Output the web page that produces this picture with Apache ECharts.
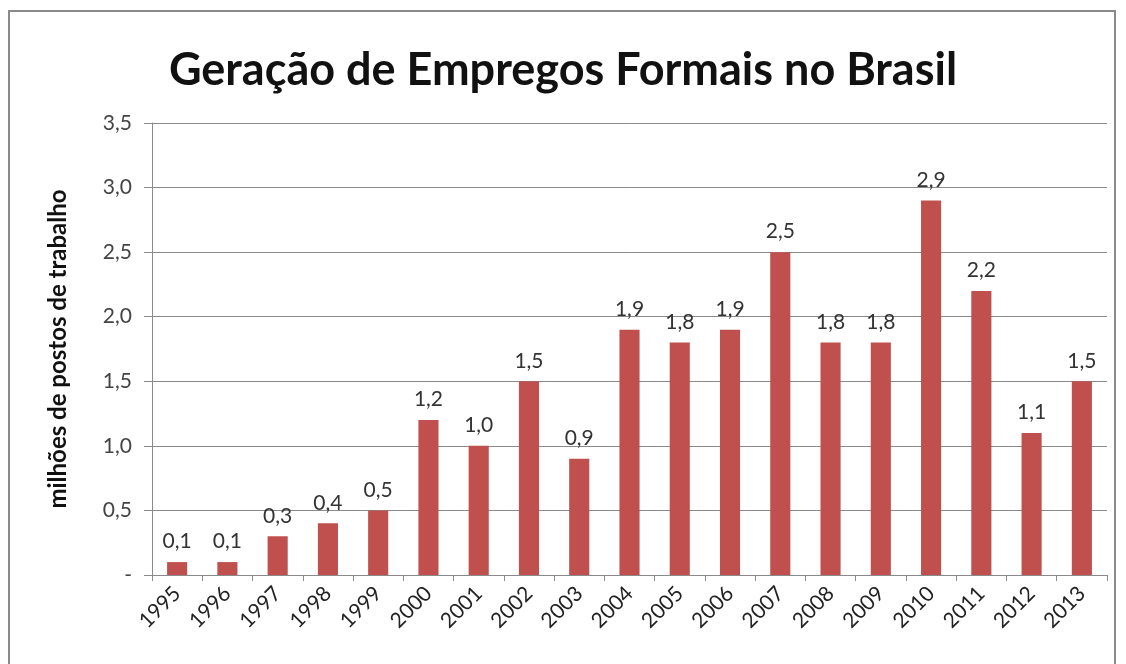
<!DOCTYPE html>
<html>
<head>
<meta charset="utf-8">
<script src="https://cdn.jsdelivr.net/npm/echarts@6/dist/echarts.min.js"></script>
<style>
  html, body { margin: 0; padding: 0; background: #fff; }
  #frame { position: absolute; left: 8px; top: 10px; width: 1108px; height: 660px; border: 2px solid #8a8a8a; box-sizing: border-box; }
  #chart { width: 1126px; height: 664px; }
</style>
</head>
<body>
<div id="frame"></div>
<div id="chart"></div>
<script>
var years = ['1995', '1996', '1997', '1998', '1999', '2000', '2001', '2002', '2003', '2004',
             '2005', '2006', '2007', '2008', '2009', '2010', '2011', '2012', '2013'];
var empregos = [0.1, 0.1, 0.3, 0.4, 0.5, 1.2, 1.0, 1.5, 0.9, 1.9,
                1.8, 1.9, 2.5, 1.8, 1.8, 2.9, 2.2, 1.1, 1.5];

var fmt = (v) => v === 0 ? '-' : v.toFixed(1).replace('.', ',');

var chart = echarts.init(document.getElementById('chart'));
chart.setOption({
    animation: false,
    textStyle: { fontFamily: 'Lato' },
    title: {
        text: 'Geração de Empregos Formais no Brasil',
        left: 'center',
        top: 43,
        textStyle: { fontSize: 45, fontWeight: 'bold', color: '#111', fontFamily: 'Lato' }
    },
    grid: { left: 152, right: 19, top: 123, bottom: 89 },
    xAxis: {
        type: 'category',
        data: years,
        axisLine: { lineStyle: { color: '#8a8a8a', width: 1 } },
        axisTick: { show: true, length: 6, lineStyle: { color: '#8a8a8a' } },
        axisLabel: { rotate: 45, fontSize: 21, color: '#222', margin: 15 }
    },
    yAxis: {
        type: 'value',
        min: 0,
        max: 3.5,
        interval: 0.5,
        name: 'milhões de postos de trabalho',
        nameLocation: 'middle',
        nameGap: 82,
        nameTextStyle: { fontSize: 24, fontWeight: 'bold', color: '#111' },
        axisLine: { show: true, lineStyle: { color: '#8a8a8a' } },
        axisTick: { show: true, length: 8, lineStyle: { color: '#8a8a8a' } },
        axisLabel: { fontSize: 21, color: '#444', margin: 20, formatter: fmt },
        splitLine: { lineStyle: { color: '#8a8a8a', width: 1 } }
    },
    series: [{
        type: 'bar',
        data: empregos,
        barWidth: '40%',
        itemStyle: { color: '#C0504D' },
        label: {
            show: true,
            position: 'top',
            distance: 10,
            fontSize: 21,
            color: '#333',
            formatter: (p) => fmt(p.value)
        }
    }]
});
</script>
</body>
</html>
